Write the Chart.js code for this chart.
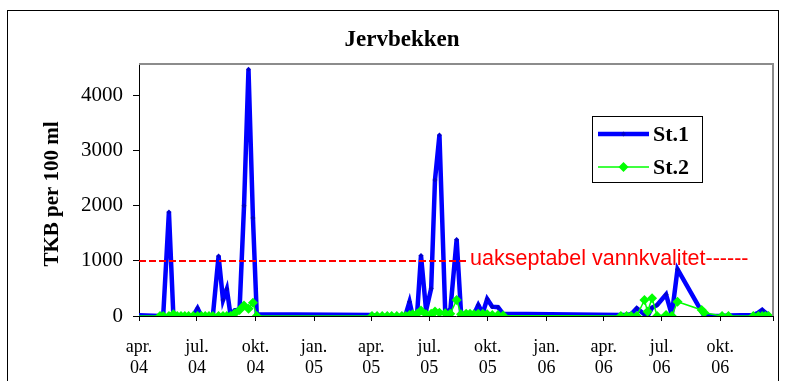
<!DOCTYPE html>
<html><head><meta charset="utf-8">
<script src="https://cdn.jsdelivr.net/npm/chart.js@4/dist/chart.umd.min.js"></script>
<style>html,body{margin:0;padding:0;background:#fff;}</style>
</head><body>
<canvas id="c" width="785" height="381"></canvas>
<script>
// ---------- data ----------
const TITLE = 'Jervbekken';
const Y_TITLE = 'TKB per 100 ml';
const SERIES_NAMES = ['St.1', 'St.2'];

const sampleDates = [
  '2004-03-15',
  '2004-05-04','2004-05-09','2004-05-18','2004-05-25','2004-05-31','2004-06-06','2004-06-12','2004-06-18',
  '2004-06-25','2004-07-02','2004-07-08','2004-07-14','2004-07-20','2004-07-26','2004-08-04','2004-08-11',
  '2004-08-17','2004-08-23','2004-08-29','2004-09-06','2004-09-13','2004-09-20','2004-09-27','2004-10-03',
  '2005-04-02','2005-04-10','2005-04-18','2005-04-26','2005-05-03','2005-05-11','2005-05-19','2005-05-25',
  '2005-05-31','2005-06-05','2005-06-12','2005-06-18','2005-06-26','2005-07-04','2005-07-10','2005-07-17',
  '2005-07-26','2005-08-03','2005-08-13','2005-08-20','2005-08-28','2005-09-03','2005-09-09','2005-09-16',
  '2005-09-23','2005-09-30','2005-10-08','2005-10-17','2005-10-25',
  '2006-04-28','2006-05-07','2006-05-14','2006-05-23','2006-06-04','2006-06-09','2006-06-16','2006-06-24',
  '2006-07-08','2006-07-17','2006-07-26','2006-09-02','2006-09-06','2006-10-04','2006-10-14','2006-11-22',
  '2006-11-30','2006-12-06','2006-12-11','2006-12-16'
];
const st1 = [
  20,
  0,0,1890,0,0,0,0,0,
  0,140,0,0,0,0,1090,290,
  490,0,100,120,2000,4480,1780,30,
  20,0,0,0,0,0,0,30,
  260,0,50,1100,100,500,2470,3285,
  100,90,1390,40,40,30,30,200,
  50,310,170,160,40,
  20,20,30,140,30,0,150,200,
  390,20,850,80,0,0,10,20,
  60,110,60,20
];
const st2 = [
  0,
  0,0,0,30,0,0,0,0,
  0,0,0,0,0,0,0,0,
  0,0,40,110,190,130,240,0,
  0,0,0,0,0,0,0,0,
  20,30,40,100,30,40,80,60,
  50,40,290,30,40,40,30,40,
  40,30,20,20,10,
  0,0,0,0,290,80,320,0,
  20,0,260,110,60,0,0,0,
  0,0,0,0
];
const thresholdDates = ['2004-04-01', '2005-08-31'];
const thresholdValues = [1000, 1000];
const THRESHOLD_LABEL = 'uakseptabel vannkvalitet------';

const X_MIN_DATE = '2004-04-01';
const X_MAX_DATE = '2006-12-23';
const Y_MAX = 4575;
const yTicks = [0, 1000, 2000, 3000, 4000];
const tickDates = ['2004-04-01','2004-07-01','2004-10-01','2005-01-01','2005-04-01','2005-07-01',
                   '2005-10-01','2006-01-01','2006-04-01','2006-07-01','2006-10-01'];
const tickMonths = ['apr.','jul.','okt.','jan.','apr.','jul.','okt.','jan.','apr.','jul.','okt.'];
const tickYears  = ['04','04','04','05','05','05','05','06','06','06','06'];

// ---------- helpers ----------
const t0 = Date.UTC(2004, 3, 1);
function dayOf(s){ const [y,m,d] = s.split('-').map(Number); return (Date.UTC(y,m-1,d) - t0) / 86400000; }
const toPts = (ds, vs) => ds.map((d,i) => ({x: dayOf(d), y: vs[i]}));
const tickDays = tickDates.map(dayOf);
const xMin = dayOf(X_MIN_DATE);
const xMax = dayOf(X_MAX_DATE);

const SERIF = "'Liberation Serif', 'Times New Roman', serif";
const SANS = "'Liberation Sans', Arial, sans-serif";

const decor = {
  id: 'decor',
  beforeDraw(chart){
    const c = chart.ctx; c.save(); c.fillStyle = '#fff'; c.fillRect(0,0,chart.width,chart.height); c.restore();
  },
  afterDraw(chart){
    const c = chart.ctx, a = chart.chartArea;
    const xs = chart.scales.x, ys = chart.scales.y;
    c.save();
    // outer frame
    c.strokeStyle = '#000'; c.lineWidth = 1;
    c.strokeRect(7.5, 10.5, 771, 420);
    // plot border top & right
    c.strokeStyle = '#8c8c8c'; c.lineWidth = 2;
    c.beginPath(); c.moveTo(a.left, a.top); c.lineTo(a.right, a.top); c.lineTo(a.right, a.bottom); c.stroke();
    // title
    c.fillStyle = '#000'; c.textAlign = 'center'; c.textBaseline = 'middle';
    c.font = "bold 23px " + SERIF;
    c.fillText(TITLE, 402, 40);
    // y title
    c.save(); c.translate(53, 194); c.rotate(-Math.PI/2);
    c.font = "bold 21px " + SERIF; c.fillText(Y_TITLE, 0, 0); c.restore();
    // threshold label
    const lx = xs.getPixelForValue(dayOf(thresholdDates[1])) + 2;
    const ly = ys.getPixelForValue(thresholdValues[1]);
    c.fillStyle = '#ff0000'; c.textAlign = 'left'; c.textBaseline = 'middle';
    c.font = "21.5px " + SANS;
    c.fillText(THRESHOLD_LABEL, lx, ly - 2);
    // legend
    const bx = 592, by = 116, bw = 110, bh = 66;
    c.fillStyle = '#fff'; c.fillRect(bx, by, bw, bh);
    c.strokeStyle = '#000'; c.lineWidth = 1; c.strokeRect(bx + 0.5, by + 0.5, bw, bh);
    const ds = chart.data.datasets;
    const rows = SERIES_NAMES.map(n => ds.find(d => d.label === n));
    const rowY = [134, 167];
    rows.forEach((d, i) => {
      const y = rowY[i];
      c.strokeStyle = d.borderColor; c.lineWidth = d.borderWidth;
      c.beginPath(); c.moveTo(598, y); c.lineTo(649, y); c.stroke();
      c.fillStyle = d.pointBackgroundColor;
      const r = d.pointRadius;
      c.beginPath(); c.moveTo(623.5, y - r); c.lineTo(623.5 + r, y); c.lineTo(623.5, y + r); c.lineTo(623.5 - r, y); c.closePath(); c.fill();
      c.fillStyle = '#000'; c.textAlign = 'left'; c.textBaseline = 'middle';
      c.font = "bold 22px " + SERIF;
      c.fillText(d.label, 653, y + 1);
    });
    c.restore();
  }
};

new Chart(document.getElementById('c'), {
  type: 'line',
  data: {
    datasets: [
      { label: 'threshold', data: toPts(thresholdDates, thresholdValues), borderColor: '#ff0000', borderWidth: 2,
        borderDash: [7, 3], pointRadius: 0, order: 0, fill: false },
      { label: SERIES_NAMES[1], data: toPts(sampleDates, st2), borderColor: '#00ff00', borderWidth: 1.5,
        pointStyle: 'rectRot', pointRadius: 5, pointBackgroundColor: '#00ff00', pointBorderColor: '#00ff00',
        pointBorderWidth: 0, order: 1, tension: 0, fill: false },
      { label: SERIES_NAMES[0], data: toPts(sampleDates, st1), borderColor: '#0000ff', borderWidth: 4.5,
        pointStyle: 'rectRot', pointRadius: 2.5, pointBackgroundColor: '#0000cc', pointBorderColor: '#0000cc',
        pointBorderWidth: 0, order: 2, tension: 0, fill: false }
    ]
  },
  options: {
    responsive: false, animation: false, devicePixelRatio: 1,
    layout: { padding: { left: 0, right: 12, top: 64, bottom: 0 } },
    plugins: { legend: { display: false }, tooltip: { enabled: false }, title: { display: false } },
    scales: {
      x: {
        type: 'linear', min: xMin, max: xMax,
        afterBuildTicks(s){ s.ticks = tickDays.map(v => ({ value: v })).concat([{ value: xMax }]); },
        afterFit(s){ s.height = 65; s.paddingLeft = 0; s.paddingRight = 0; },
        grid: { drawOnChartArea: false, drawTicks: true, tickLength: 5, color: '#000', lineWidth: 1 },
        border: { color: '#000', width: 1 },
        ticks: {
          autoSkip: false, maxRotation: 0, minRotation: 0, padding: 15, color: '#000',
          font: { family: SERIF, size: 18, lineHeight: 1.2 },
          callback(v){ const i = tickDays.indexOf(v); return i < 0 ? '' : [tickMonths[i], tickYears[i]]; }
        }
      },
      y: {
        min: 0, max: Y_MAX,
        afterBuildTicks(s){ s.ticks = yTicks.map(v => ({ value: v })); },
        afterFit(s){ s.width = 139; s.paddingTop = 0; s.paddingBottom = 0; },
        grid: { drawOnChartArea: false, drawTicks: true, tickLength: 6, color: '#000', lineWidth: 1 },
        border: { color: '#000', width: 1 },
        ticks: { padding: 10, color: '#000', font: { family: SERIF, size: 21 }, callback: v => String(v) }
      }
    }
  },
  plugins: [decor]
});
</script>
</body></html>
